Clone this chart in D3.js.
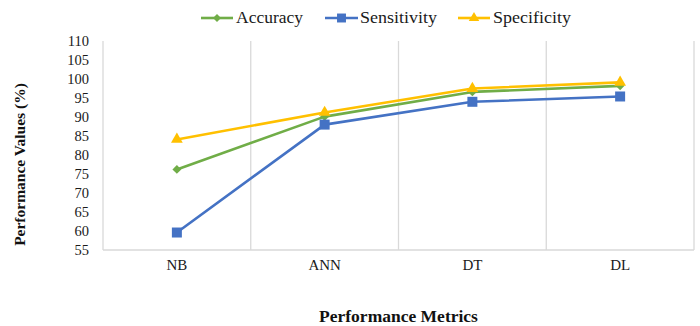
<!DOCTYPE html>
<html>
<head>
<meta charset="utf-8">
<script src="https://cdn.jsdelivr.net/npm/d3@7"></script>
<style>
  html, body { margin: 0; padding: 0; background: #fff; }
  svg { display: block; }
  text { font-family: "Liberation Serif", "Times New Roman", "DejaVu Serif", serif; }
</style>
</head>
<body>
<svg id="chart" width="700" height="326"></svg>
<script>
const categories = ["NB", "ANN", "DT", "DL"];
const seriesNames = ["Accuracy", "Sensitivity", "Specificity"];
const accuracy = [76.2, 90.1, 96.6, 98.2];
const sensitivity = [59.6, 88.0, 94.0, 95.4];
const specificity = [84.1, 91.2, 97.5, 99.1];
const yTicks = [55, 60, 65, 70, 75, 80, 85, 90, 95, 100, 105, 110];
const xTitle = "Performance Metrics";
const yTitle = "Performance Values (%)";

const series = [
  { name: seriesNames[0], values: accuracy, color: "#70AD47", symbol: d3.symbolDiamond2, size: 50 },
  { name: seriesNames[1], values: sensitivity, color: "#4472C4", symbol: d3.symbolSquare, size: 100 },
  { name: seriesNames[2], values: specificity, color: "#FFC000", symbol: d3.symbolTriangle, size: 60 }
];

const svg = d3.select("#chart");
const mLeft = 103, mRight = 694, mTop = 41, mBottom = 250;

const x = d3.scaleBand().domain(categories).range([mLeft, mRight]).padding(0);
const y = d3.scaleLinear().domain([55, 110]).range([mBottom, mTop]);

// vertical gridlines between categories
const bounds = categories.map(c => x(c)).concat([x(categories[categories.length - 1]) + x.bandwidth()]);
svg.append("g").selectAll("line").data(bounds).join("line")
  .attr("x1", d => d).attr("x2", d => d)
  .attr("y1", y(110)).attr("y2", y(55))
  .attr("stroke", "#d9d9d9").attr("stroke-width", 1.3);

// bottom axis line
svg.append("line")
  .attr("x1", mLeft).attr("x2", mRight)
  .attr("y1", y(55)).attr("y2", y(55))
  .attr("stroke", "#d9d9d9").attr("stroke-width", 1.3);

// y axis labels
const yAxis = svg.append("g")
  .attr("transform", `translate(${mLeft - 14},0)`)
  .call(d3.axisLeft(y).tickValues(yTicks).tickSize(0).tickPadding(0).tickFormat(d3.format("d")));
yAxis.select(".domain").remove();
yAxis.selectAll("text")
  .attr("font-family", null)
  .attr("font-size", 14.5)
  .attr("fill", "#1a1a1a")
  .attr("dy", "0.34em");

// x axis labels
const xAxis = svg.append("g")
  .attr("transform", `translate(0,${mBottom})`)
  .call(d3.axisBottom(x).tickSize(0).tickPadding(0));
xAxis.select(".domain").remove();
xAxis.selectAll("text")
  .attr("font-family", null)
  .attr("font-size", 15)
  .attr("fill", "#1a1a1a")
  .attr("dy", "0")
  .attr("y", 20);
svg.selectAll("g").attr("font-family", null);

// lines
const line = d3.line().x((d, i) => x(categories[i]) + x.bandwidth() / 2).y(d => y(d));
series.forEach(s => {
  svg.append("path")
    .attr("d", line(s.values))
    .attr("fill", "none")
    .attr("stroke", s.color)
    .attr("stroke-width", 2.6)
    .attr("stroke-linejoin", "round");
  svg.append("g").selectAll("path").data(s.values).join("path")
    .attr("transform", (d, i) => `translate(${x(categories[i]) + x.bandwidth() / 2},${y(d)})`)
    .attr("d", d3.symbol().type(s.symbol).size(s.size))
    .attr("fill", s.color);
});

// legend
const legendItems = [
  { x0: 201, x1: 233, tx: 236, tl: 67 },
  { x0: 325, x1: 358, tx: 360, tl: 77 },
  { x0: 458, x1: 490, tx: 493, tl: 78 }
];
const ly = 18;
series.forEach((s, i) => {
  const it = legendItems[i];
  const g = svg.append("g");
  g.append("line").attr("x1", it.x0).attr("x2", it.x1).attr("y1", ly).attr("y2", ly)
    .attr("stroke", s.color).attr("stroke-width", 2.6);
  g.append("path").attr("transform", `translate(${(it.x0 + it.x1) / 2},${ly})`)
    .attr("d", d3.symbol().type(s.symbol).size(s.size * 0.8)).attr("fill", s.color);
  g.append("text").attr("x", it.tx).attr("y", ly + 5)
    .attr("font-size", 16.5).attr("fill", "#1a1a1a")
    .attr("textLength", it.tl).attr("lengthAdjust", "spacingAndGlyphs")
    .text(s.name);
});

// axis titles
svg.append("text")
  .attr("x", (mLeft + mRight) / 2).attr("y", 322)
  .attr("text-anchor", "middle")
  .attr("font-size", 17.5).attr("font-weight", "bold").attr("fill", "#111")
  .text(xTitle);

svg.append("text")
  .attr("transform", `translate(25,${164.5}) rotate(-90)`)
  .attr("text-anchor", "middle")
  .attr("font-size", 15.5).attr("font-weight", "bold").attr("fill", "#111")
  .text(yTitle);
</script>
</body>
</html>
